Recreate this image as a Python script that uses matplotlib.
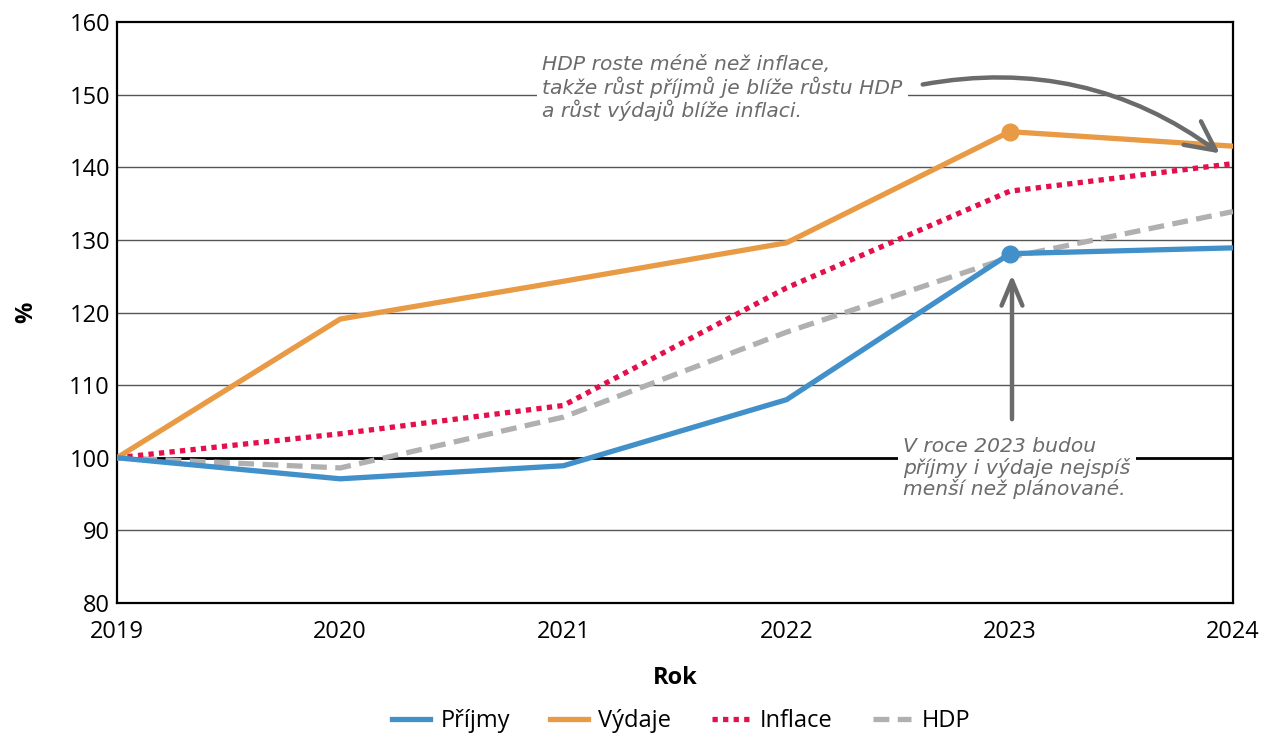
import matplotlib
matplotlib.use("Agg")
import matplotlib.pyplot as plt
from matplotlib.patches import FancyArrowPatch

years = [2019, 2020, 2021, 2022, 2023, 2024]
prijmy = [100, 97.1, 98.9, 108.0, 128.1, 128.9]
vydaje = [100, 119.1, 124.3, 129.6, 144.9, 142.9]
inflace = [100, 103.3, 107.2, 123.4, 136.7, 140.5]
hdp = [100, 98.6, 105.6, 117.3, 127.6, 133.9]
yticks = [80, 90, 100, 110, 120, 130, 140, 150, 160]

note1 = "HDP roste méně než inflace,\ntakže růst příjmů je blíže růstu HDP\na růst výdajů blíže inflaci."
note2 = "V roce 2023 budou\npříjmy i výdaje nejspíš\nmenší než plánované."

plt.rcParams['font.family'] = ['Open Sans', 'DejaVu Sans']

fig = plt.figure(figsize=(12.69, 7.35), dpi=100)
ax = fig.add_axes([117/1269, 1-603/735, (1233-117)/1269, (603-22)/735])

c_blue = '#4190c9'
c_orange = '#e89a45'
c_red = '#e3104b'
c_gray = '#b0b0b0'

ax.set_xlim(2019, 2024)
ax.set_ylim(80, 160)
ax.set_yticks(yticks)
ax.set_xticks(years)
for y in yticks:
    if y == 100:
        ax.axhline(y, color='black', lw=2.0, zorder=1)
    elif y not in (80, 160):
        ax.axhline(y, color='#555555', lw=1.0, zorder=1)
for s in ax.spines.values():
    s.set_color('black')
    s.set_linewidth(1.6)

lw = 3.8
ax.plot(years, hdp, color=c_gray, lw=lw, linestyle=(0, (3, 1.6)), dash_capstyle='butt', label='HDP', zorder=3)
ax.plot(years, inflace, color=c_red, lw=lw, linestyle=(0, (1, 1)), dash_capstyle='butt', label='Inflace', zorder=4)
ax.plot(years, vydaje, color=c_orange, lw=lw, label='Výdaje', zorder=5)
ax.plot(years, prijmy, color=c_blue, lw=lw, label='Příjmy', zorder=5)
ax.plot([2023], [vydaje[4]], 'o', color=c_orange, ms=12, zorder=6)
ax.plot([2023], [prijmy[4]], 'o', color=c_blue, ms=12, zorder=6)

ax.tick_params(axis='both', length=0, labelsize=17)
ax.tick_params(axis='y', pad=5)
ax.tick_params(axis='x', pad=12)
ax.set_xlabel('Rok', fontsize=17, fontweight='bold', labelpad=16)
ax.set_ylabel('%', fontsize=17, fontweight='bold', labelpad=22)

anncol = '#6b6b6b'
t1 = ax.text(2019 + (542-117)/223.2, 160 - (88-22)/7.2625, note1, fontsize=14.6, style='italic',
             color=anncol, va='center', ha='left', linespacing=1.12, family=['DejaVu Sans'],
             bbox=dict(facecolor='white', edgecolor='none', pad=4), zorder=7)
t2 = ax.text(2019 + (903-117)/223.2, 160 - (468-22)/7.2625, note2, fontsize=14.6, style='italic',
             color=anncol, va='center', ha='left', linespacing=1.12, family=['DejaVu Sans'],
             bbox=dict(facecolor='white', edgecolor='none', pad=4), zorder=7)

def px(xp, yp):
    return (2019 + (xp-117)/223.2, 160 - (yp-22)/7.2625)

a1 = FancyArrowPatch(px(920, 85), px(1222, 155), connectionstyle='arc3,rad=-0.22',
                     arrowstyle='->,head_length=14,head_width=7', color=anncol, lw=3.2, zorder=8,
                     mutation_scale=1.5)
ax.add_patch(a1)
a2 = FancyArrowPatch(px(1012, 422), px(1012, 272), arrowstyle='->,head_length=12,head_width=5',
                     color=anncol, lw=3.2, zorder=8, mutation_scale=1.5)
ax.add_patch(a2)

handles, labels = ax.get_legend_handles_labels()
order = [3, 2, 1, 0]
fig.legend([handles[i] for i in order], [labels[i] for i in order], loc='center',
           bbox_to_anchor=(681/1269, 1-721/735), ncol=4, frameon=False, fontsize=17,
           handlelength=1.6, columnspacing=1.7, handletextpad=0.45)

fig.savefig('out.png', dpi=100)
